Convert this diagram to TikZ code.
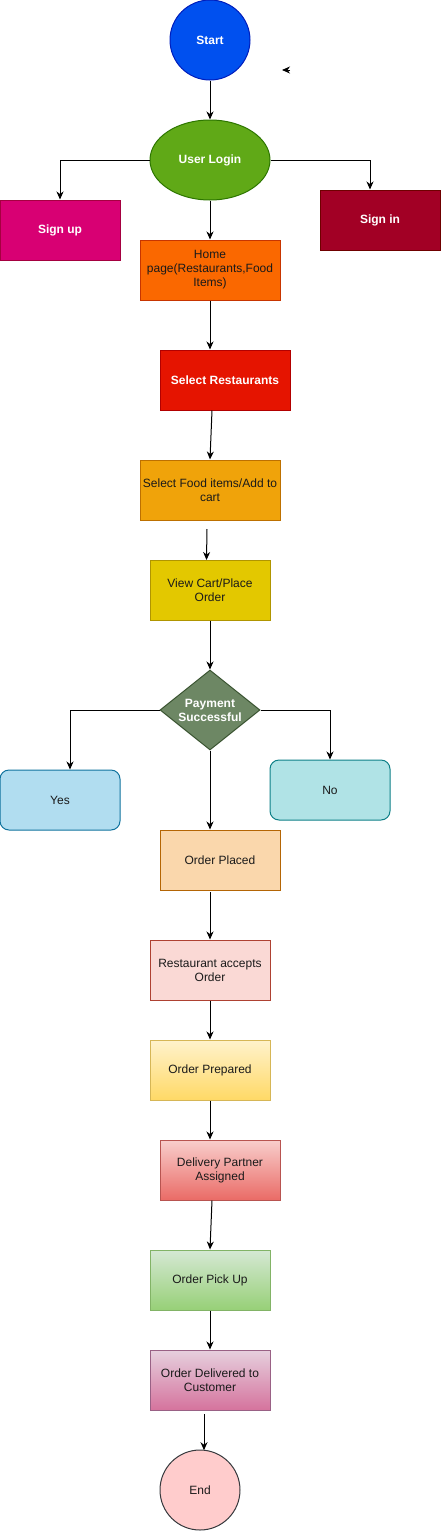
\documentclass[tikz,border=0pt]{standalone}
\usepackage{fontspec}
\setmainfont{Liberation Sans}
\usetikzlibrary{arrows.meta,shapes.geometric}
\definecolor{cStartF}{HTML}{0050EF}\definecolor{cStartD}{HTML}{001DBC}
\definecolor{cLoginF}{HTML}{60A917}\definecolor{cLoginD}{HTML}{2D7600}
\definecolor{cUpF}{HTML}{D80073}\definecolor{cUpD}{HTML}{A50040}
\definecolor{cInF}{HTML}{A20025}\definecolor{cInD}{HTML}{6F0000}
\definecolor{cHomeF}{HTML}{FA6800}\definecolor{cHomeD}{HTML}{C73500}
\definecolor{cSelF}{HTML}{E51400}\definecolor{cSelD}{HTML}{B20000}
\definecolor{cFoodF}{HTML}{F0A30A}\definecolor{cFoodD}{HTML}{BD7000}
\definecolor{cViewF}{HTML}{E3C800}\definecolor{cViewD}{HTML}{B09500}
\definecolor{cPayF}{HTML}{6D8764}\definecolor{cPayD}{HTML}{3A5431}
\definecolor{cYesF}{HTML}{B1DDF0}\definecolor{cYesD}{HTML}{10739E}
\definecolor{cNoF}{HTML}{B0E3E6}\definecolor{cNoD}{HTML}{0E8088}
\definecolor{cPlF}{HTML}{FAD7AC}\definecolor{cPlD}{HTML}{B46504}
\definecolor{cAcF}{HTML}{FAD9D5}\definecolor{cAcD}{HTML}{AE4132}
\definecolor{cPrT}{HTML}{FFF2CC}\definecolor{cPrB}{HTML}{FFD966}\definecolor{cPrD}{HTML}{D6B656}
\definecolor{cDeT}{HTML}{F8CECC}\definecolor{cDeB}{HTML}{EA6B66}\definecolor{cDeD}{HTML}{B85450}
\definecolor{cPuT}{HTML}{D5E8D4}\definecolor{cPuB}{HTML}{97D077}\definecolor{cPuD}{HTML}{82B366}
\definecolor{cDlT}{HTML}{E6D0DE}\definecolor{cDlB}{HTML}{D5739D}\definecolor{cDlD}{HTML}{996185}
\definecolor{cEndF}{HTML}{FFCCCC}\definecolor{cEndD}{HTML}{36393D}
\definecolor{cTxt}{HTML}{1A1A1A}
\begin{document}
\begin{tikzpicture}[x=1pt,y=-1pt,
  every node/.style={font=\fontsize{12}{14}\selectfont, align=center, inner sep=0pt, line width=1pt, text=cTxt},
  box/.style={rectangle, minimum width=120pt, minimum height=60pt},
  lite/.style={text=white, font=\fontsize{12}{14}\selectfont\bfseries},
  conn/.style={line width=1pt, -{Stealth[length=8pt,width=7pt,inset=2.5pt]}}]
\useasboundingbox (0,0) rectangle (441,1531);
% nodes
\node[circle, minimum size=80pt, fill=cStartF, draw=cStartD, lite] (start) at (210,40) {Start};
\node[ellipse, minimum width=120pt, minimum height=80pt, fill=cLoginF, draw=cLoginD, lite] (login) at (210,160) {User Login};
\node[box, fill=cUpF, draw=cUpD, lite] (signup) at (60,230) {Sign up};
\node[box, fill=cInF, draw=cInD, lite] (signin) at (380,220) {Sign in};
\node[box, minimum width=140pt, fill=cHomeF, draw=cHomeD] (home) at (210,270) {Home\\page(Restaurants,Food\\Items)};
\node[box, minimum width=130pt, fill=cSelF, draw=cSelD, lite] (selr) at (225,380) {Select Restaurants};
\node[box, minimum width=140pt, fill=cFoodF, draw=cFoodD] (food) at (210,490) {Select Food items/Add to\\cart};
\node[box, fill=cViewF, draw=cViewD] (view) at (210,590) {View Cart/Place\\Order};
\node[diamond, aspect=1.25, minimum width=100pt, minimum height=80pt, fill=cPayF, draw=cPayD, lite] (pay) at (210,710) {Payment\\Successful};
\node[box, rounded corners=9pt, fill=cYesF, draw=cYesD] (yes) at (60,800) {Yes};
\node[box, rounded corners=9pt, fill=cNoF, draw=cNoD] (no) at (330,790) {No};
\node[box, fill=cPlF, draw=cPlD] (placed) at (220,860) {Order Placed};
\node[box, fill=cAcF, draw=cAcD] (accept) at (210,970) {Restaurant accepts\\Order};
\node[box, top color=cPrT, bottom color=cPrB, draw=cPrD] (prep) at (210,1070) {Order Prepared};
\node[box, top color=cDeT, bottom color=cDeB, draw=cDeD] (deliv) at (220,1170) {Delivery Partner\\Assigned};
\node[box, top color=cPuT, bottom color=cPuB, draw=cPuD] (pick) at (210,1280) {Order Pick Up};
\node[box, top color=cDlT, bottom color=cDlB, draw=cDlD] (done) at (210,1380) {Order Delivered to\\Customer};
\node[circle, minimum size=80pt, fill=cEndF, draw=cEndD] (end) at (200,1490) {End};
% free ends
\coordinate (strayA) at (290,70);
\coordinate (strayB) at (282,70);
\coordinate (foodOut) at (207,529);
\coordinate (doneOut) at (204,1414);
\coordinate (placedOut) at (210,892);
% connectors
\draw[conn] (start.south) -- (login.north);
\draw[conn] (login.west) -| (signup.north);
\draw[conn] (login.east) -| (signin.north -| 370,0);
\draw[conn] (login.south) -- (home.north);
\draw[conn] (home.south) -- (home.south |- selr.north);
\draw[conn] (selr.south -| 212,0) -- (food.north);
\draw[conn] (foodOut) -- (206.5,560);
\draw[conn] (view.south) -- (pay.north);
\draw[conn] (pay.west) -| (yes.north -| 70,0);
\draw[conn] (pay.east) -| (no.north);
\draw[conn] (pay.south) -- (pay.south |- placed.north);
\draw[conn] (placedOut) -- (accept.north);
\draw[conn] (accept.south) -- (prep.north);
\draw[conn] (prep.south) -- (prep.south |- deliv.north);
\draw[conn] (deliv.south -| 212,0) -- (pick.north);
\draw[conn] (pick.south) -- (done.north);
\draw[conn] (doneOut) -- (204,1450.2);
\draw[conn] (strayA) -- (strayB);
\end{tikzpicture}
\end{document}
